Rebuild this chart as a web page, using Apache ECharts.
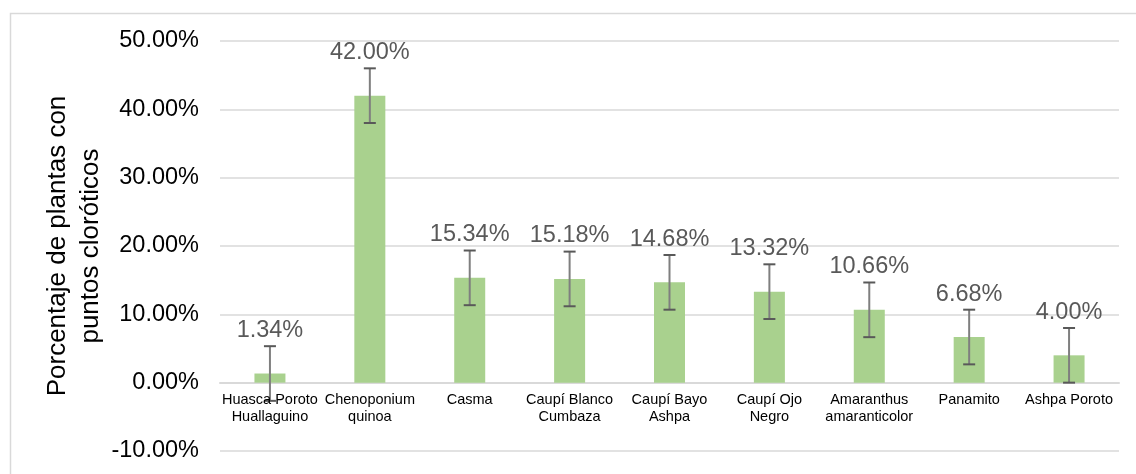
<!DOCTYPE html>
<html>
<head>
<meta charset="utf-8">
<script src="https://cdn.jsdelivr.net/npm/echarts@6/dist/echarts.min.js"></script>
<style>
html,body{margin:0;padding:0;background:#fff;}
#chart{width:1136px;height:474px;}
</style>
</head>
<body>
<div id="chart"></div>
<script>
const categories = ["Huasca Poroto\nHuallaguino", "Chenoponium\nquinoa", "Casma", "Caupí Blanco\nCumbaza", "Caupí Bayo\nAshpa", "Caupí Ojo\nNegro", "Amaranthus\namaranticolor", "Panamito", "Ashpa Poroto"];
const values = [1.34, 42.00, 15.34, 15.18, 14.68, 13.32, 10.66, 6.68, 4.00];
const errors = [4, 4, 4, 4, 4, 4, 4, 4, 4];
const yTicks = [-10, 0, 10, 20, 30, 40, 50];

const FONT = 'Liberation Sans, Arial, sans-serif';
const chart = echarts.init(document.getElementById('chart'));

const errData = values.map((v, i) => [i, v - errors[i], v + errors[i]]);
const catLabelData = categories.map((c, i) => [i, 0]);

chart.setOption({
  animation: false,
  backgroundColor: '#fff',
  graphic: [{
    type: 'rect',
    left: 8, top: 11,
    shape: { width: 1150, height: 480 },
    style: { fill: 'none', stroke: '#d9d9d9', lineWidth: 1.5 },
    silent: true, z: -1
  }],
  grid: { left: 220, right: 17, top: 41, bottom: 23, outerBoundsMode: 'none', containLabel: false },
  xAxis: {
    type: 'category',
    data: categories,
    axisLine: { onZero: true, lineStyle: { color: '#d9d9d9', width: 2 } },
    axisTick: { show: false },
    axisLabel: { show: false },
    splitLine: { show: false }
  },
  yAxis: {
    type: 'value',
    min: yTicks[0], max: yTicks[yTicks.length - 1], interval: 10,
    name: 'Porcentaje de plantas con\npuntos cloróticos',
    nameLocation: 'middle',
    nameGap: 146,
    nameMoveOverlap: false,
    nameTextStyle: { fontSize: 26, color: '#000', lineHeight: 33, fontFamily: FONT, verticalAlign: 'middle' },
    axisLine: { show: false },
    axisTick: { show: false },
    axisLabel: {
      color: '#000', fontSize: 23.5, margin: 21, fontFamily: FONT,
      formatter: v => v.toFixed(2) + '%'
    },
    splitLine: { lineStyle: { color: '#d9d9d9', width: 1.5 } }
  },
  series: [{
    type: 'bar',
    data: values,
    barWidth: 31,
    itemStyle: { color: '#a9d18e' },
    label: {
      show: true, position: 'top', distance: 31,
      color: '#595959', fontSize: 23.5, fontFamily: FONT,
      formatter: p => p.value.toFixed(2) + '%'
    }
  }, {
    type: 'custom',
    data: errData,
    encode: { x: 0, y: [1, 2] },
    clip: false,
    z: 5,
    renderItem: function (params, api) {
      const x = api.value(0);
      const lo = api.coord([x, api.value(1)]);
      const hi = api.coord([x, api.value(2)]);
      const cw = 6;
      return {
        type: 'group',
        children: [
          { type: 'line', shape: { x1: hi[0], y1: hi[1], x2: lo[0], y2: lo[1] }, style: { stroke: '#7f7f7f', lineWidth: 2 } },
          { type: 'line', shape: { x1: hi[0] - cw, y1: hi[1], x2: hi[0] + cw, y2: hi[1] }, style: { stroke: '#595959', lineWidth: 2 } },
          { type: 'line', shape: { x1: lo[0] - cw, y1: lo[1], x2: lo[0] + cw, y2: lo[1] }, style: { stroke: '#595959', lineWidth: 2 } }
        ]
      };
    }
  }, {
    type: 'custom',
    data: catLabelData,
    encode: { x: 0, y: 1 },
    clip: false,
    z: 6,
    renderItem: function (params, api) {
      const p = api.coord([api.value(0), api.value(1)]);
      return {
        type: 'text',
        style: {
          text: categories[params.dataIndex],
          x: p[0], y: p[1] + 9,
          align: 'center', verticalAlign: 'top',
          fontSize: 14.5, lineHeight: 17, fontFamily: FONT, fill: '#000'
        }
      };
    }
  }]
});
</script>
</body>
</html>
